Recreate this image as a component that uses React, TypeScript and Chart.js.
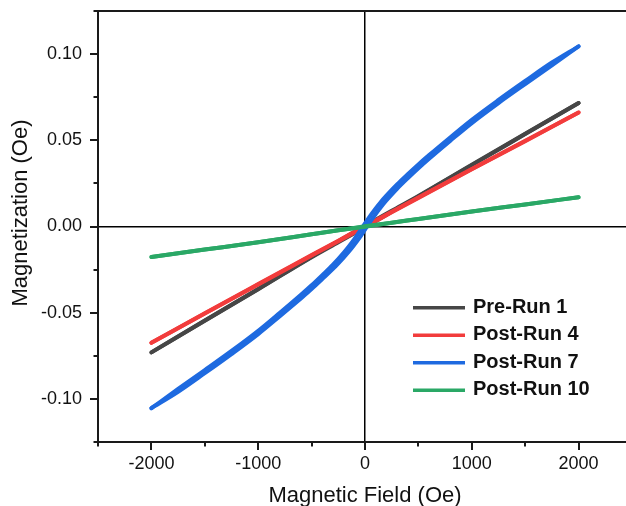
import React, { useEffect, useRef } from "react";
import { Chart, registerables } from "chart.js";

Chart.register(...registerables);

// ---------- data ----------
const SERIES_NAMES = ["Pre-Run 1", "Post-Run 4", "Post-Run 7", "Post-Run 10"];
const SERIES_COLORS = ["#464646", "#f23c3c", "#1e6ae0", "#2aa866"];

const X_TICKS = [-2000, -1000, 0, 1000, 2000];
const X_MINOR_TICKS = [-2500, -1500, -500, 500, 1500, 2500];
const Y_TICKS = [-0.1, -0.05, 0, 0.05, 0.1];
const Y_MINOR_TICKS = [-0.125, -0.075, -0.025, 0.025, 0.075, 0.125];

// field values (Oe), ascending order, for each branch of the loops
const H_BLUE = [-2000, -1750, -1500, -1250, -1000, -800, -600, -500, -400, -300, -200, -150, -100, -50, 0, 50, 100, 150, 200, 300, 400, 500, 600, 800, 1000, 1250, 1500, 1750, 2000];
// Post-Run 7 – upper (descending-field) branch and lower (ascending-field) branch
const M_BLUE_DOWN = [-0.1054, -0.0942, -0.0833, -0.0722, -0.0605, -0.0502, -0.0396, -0.0341, -0.0282, -0.0221, -0.0152, -0.0114, -0.0073, -0.0028, 0.0018, 0.0063, 0.0105, 0.0144, 0.0179, 0.0244, 0.0303, 0.036, 0.0414, 0.0518, 0.0619, 0.0734, 0.0844, 0.0951, 0.1045];
const M_BLUE_UP = [-0.1054, -0.0959, -0.0851, -0.074, -0.0624, -0.0522, -0.0417, -0.0363, -0.0305, -0.0246, -0.018, -0.0145, -0.0106, -0.0064, -0.0018, 0.0028, 0.0072, 0.0113, 0.0151, 0.0219, 0.028, 0.0338, 0.0393, 0.0498, 0.06, 0.0716, 0.0826, 0.0934, 0.1045];

const H_LIN = [-2000, -1500, -1000, -500, -250, 0, 250, 500, 1000, 1500, 2000];

const M_BLACK_DOWN = [-0.073, -0.0545, -0.0362, -0.0175, -0.0085, 0.0004, 0.0091, 0.0177, 0.0358, 0.0538, 0.0716];
const M_BLACK_UP = [-0.073, -0.0547, -0.0364, -0.0178, -0.0091, -0.0004, 0.0085, 0.0174, 0.0356, 0.0536, 0.0716];

const M_RED_DOWN = [-0.0675, -0.0503, -0.0334, -0.0166, -0.0082, 0.0003, 0.0085, 0.0168, 0.0334, 0.0497, 0.0661];
const M_RED_UP = [-0.0675, -0.0505, -0.0336, -0.0168, -0.0085, -0.0003, 0.0082, 0.0166, 0.0332, 0.0495, 0.0661];

const M_GREEN_DOWN = [-0.0177, -0.0134, -0.0091, -0.0045, -0.0022, 0.0001, 0.0022, 0.0044, 0.0087, 0.0128, 0.017];
const M_GREEN_UP = [-0.0177, -0.0134, -0.0091, -0.0045, -0.0022, -0.0001, 0.0022, 0.0044, 0.0087, 0.0128, 0.017];

const X_TITLE = "Magnetic Field (Oe)";
const Y_TITLE = "Magnetization (Oe)";

// ---------- helpers ----------
const pts = (h: number[], m: number[]) => h.map((x, i) => ({ x, y: m[i] }));

const FONT = "'Liberation Sans', Arial, Helvetica, sans-serif";
const AXIS_COLOR = "#1a1a1a";

const decorPlugin = {
  id: "decor",
  afterDraw(chart: any) {
    const { ctx, chartArea, scales } = chart;
    const xs = scales.x;
    const ys = scales.y;
    ctx.save();
    ctx.strokeStyle = AXIS_COLOR;
    ctx.lineWidth = 2;
    // top frame line
    ctx.beginPath();
    ctx.moveTo(chartArea.left - 1, chartArea.top);
    ctx.lineTo(chart.width, chartArea.top);
    ctx.stroke();
    // x ticks
    const b = chartArea.bottom;
    X_TICKS.forEach((v) => {
      const p = Math.round(xs.getPixelForValue(v));
      ctx.beginPath();
      ctx.moveTo(p, b);
      ctx.lineTo(p, b + 8);
      ctx.stroke();
    });
    X_MINOR_TICKS.forEach((v) => {
      const p = Math.round(xs.getPixelForValue(v));
      ctx.beginPath();
      ctx.moveTo(p, b);
      ctx.lineTo(p, b + 4.5);
      ctx.stroke();
    });
    // y ticks
    const l = chartArea.left;
    Y_TICKS.forEach((v) => {
      const p = Math.round(ys.getPixelForValue(v));
      ctx.beginPath();
      ctx.moveTo(l, p);
      ctx.lineTo(l - 8, p);
      ctx.stroke();
    });
    Y_MINOR_TICKS.forEach((v) => {
      const p = Math.round(ys.getPixelForValue(v));
      ctx.beginPath();
      ctx.moveTo(l, p);
      ctx.lineTo(l - 4.5, p);
      ctx.stroke();
    });
    // axis titles
    ctx.fillStyle = "#111";
    ctx.font = `22px ${FONT}`;
    ctx.textAlign = "center";
    ctx.textBaseline = "alphabetic";
    ctx.fillText(X_TITLE, (chartArea.left + chartArea.right) / 2, 501.5);
    ctx.save();
    ctx.translate(27, 213);
    ctx.rotate(-Math.PI / 2);
    ctx.fillText(Y_TITLE, 0, 0);
    ctx.restore();
    // legend
    const rowY = [307.7, 335.2, 362.7, 390.2];
    ctx.font = `bold 20px ${FONT}`;
    ctx.textAlign = "left";
    ctx.textBaseline = "middle";
    SERIES_NAMES.forEach((name, i) => {
      ctx.strokeStyle = SERIES_COLORS[i];
      ctx.lineWidth = 3.5;
      ctx.beginPath();
      ctx.moveTo(413, rowY[i]);
      ctx.lineTo(465, rowY[i]);
      ctx.stroke();
      ctx.fillStyle = "#111";
      ctx.fillText(name, 473, rowY[i] - 0.5);
    });
    ctx.restore();
  },
};

export default function App() {
  const ref = useRef<HTMLCanvasElement | null>(null);

  useEffect(() => {
    if (!ref.current) return;
    const mk = (i: number, data: { x: number; y: number }[], order: number) => ({
      label: SERIES_NAMES[i],
      data,
      borderColor: SERIES_COLORS[i],
      backgroundColor: SERIES_COLORS[i],
      borderWidth: 4,
      pointRadius: 0,
      cubicInterpolationMode: "monotone",
      fill: false,
      borderCapStyle: "round",
      borderJoinStyle: "round",
      order,
    });
    const chart = new Chart(ref.current, {
      type: "line",
      data: {
        datasets: [
          mk(0, pts(H_LIN, M_BLACK_DOWN), 7),
          mk(0, pts(H_LIN, M_BLACK_UP), 6),
          mk(1, pts(H_LIN, M_RED_DOWN), 5),
          mk(1, pts(H_LIN, M_RED_UP), 4),
          mk(2, pts(H_BLUE, M_BLUE_DOWN), 3),
          mk(2, pts(H_BLUE, M_BLUE_UP), 2),
          mk(3, pts(H_LIN, M_GREEN_DOWN), 1),
          mk(3, pts(H_LIN, M_GREEN_UP), 0),
        ] as any,
      },
      options: {
        animation: false,
        responsive: false,
        devicePixelRatio: 1,
        layout: { padding: { top: 11, right: 8, left: 0, bottom: 0 } },
        plugins: { legend: { display: false }, tooltip: { enabled: false }, title: { display: false } },
        scales: {
          x: {
            type: "linear",
            min: -2500,
            max: 2500,
            afterFit: (s: any) => {
              s.height = 64;
              s.paddingLeft = 0;
              s.paddingRight = 0;
            },
            afterBuildTicks: (s: any) => {
              s.ticks = X_TICKS.map((v) => ({ value: v }));
            },
            ticks: {
              color: "#111",
              font: { family: FONT, size: 18 },
              padding: 11,
              maxRotation: 0,
              callback: (v: any) => String(v),
            },
            grid: {
              drawTicks: false,
              lineWidth: 1.5,
              color: (c: any) => (c.tick && c.tick.value === 0 ? "#000" : "rgba(0,0,0,0)"),
            },
            border: { display: true, color: AXIS_COLOR, width: 2 },
          },
          y: {
            type: "linear",
            min: -0.125,
            max: 0.125,
            afterFit: (s: any) => {
              s.width = 98;
              s.paddingTop = 0;
              s.paddingBottom = 0;
            },
            afterBuildTicks: (s: any) => {
              s.ticks = Y_TICKS.map((v) => ({ value: v }));
            },
            ticks: {
              color: "#111",
              font: { family: FONT, size: 18 },
              padding: 16,
              callback: (v: any) => Number(v).toFixed(2),
            },
            grid: {
              drawTicks: false,
              lineWidth: 1.5,
              color: (c: any) => (c.tick && Math.abs(c.tick.value) < 1e-9 ? "#000" : "rgba(0,0,0,0)"),
            },
            border: { display: true, color: AXIS_COLOR, width: 2 },
          },
        },
      },
      plugins: [decorPlugin],
    } as any);
    return () => chart.destroy();
  }, []);

  return (
    <div style={{ position: "fixed", left: 0, top: 0, width: 626, height: 506, overflow: "hidden", background: "#fff" }}>
      <canvas ref={ref} width={640} height={506} style={{ display: "block" }} />
    </div>
  );
}
